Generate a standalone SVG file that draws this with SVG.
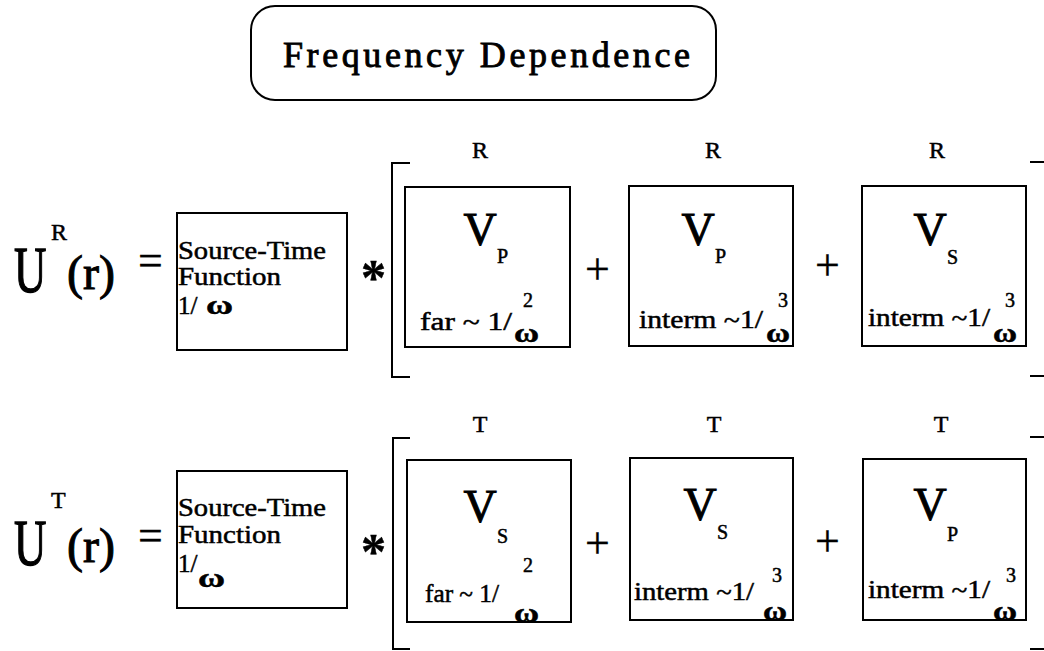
<svg xmlns="http://www.w3.org/2000/svg" width="1044" height="651" viewBox="0 0 1044 651">
<style>
text{font-family:"Liberation Serif","Times New Roman",serif;fill:#000;stroke:#000;stroke-width:0.5}
.box{fill:none;stroke:#000;stroke-width:2}
.ln{fill:none;stroke:#000;stroke-width:2}
.ttl{font-size:36px;stroke-width:0.9}
.U{font-size:66px;stroke-width:1.3}
.big{font-size:48px;stroke-width:1}
.sup{font-size:24px}
.op{font-size:44px;stroke-width:0.3}
.ast{font-size:50px;font-weight:bold}
.src{font-size:25px}
.V{font-size:46px;text-anchor:middle;stroke-width:1}
.sub{font-size:20px}
.lbl{font-size:25px}
.w{font-size:28px;font-weight:bold}
.ex{font-size:20px}
.top{font-size:24px;text-anchor:middle}
</style>
<rect width="1044" height="651" fill="#fff"/>
<g id="title">
<rect x="251" y="6" width="465" height="94" rx="24" ry="24" class="box"/>
<text x="283" y="67" class="ttl" textLength="407" lengthAdjust="spacing">Frequency Dependence</text>
</g>

<g id="lhs-R">
<text transform="translate(14,292) scale(0.68,1)" class="U">U</text>
<text x="51" y="240" class="sup">R</text>
<text x="67" y="289" class="big">(r)</text>
<text x="138" y="275" class="op">=</text>
</g>
<g id="source-R">
<rect x="177" y="213" width="170" height="137" class="box"/>
<text x="178" y="259" class="src" textLength="148" lengthAdjust="spacingAndGlyphs">Source-Time</text>
<text x="178" y="285" class="src" textLength="103" lengthAdjust="spacingAndGlyphs">Function</text>
<text x="178" y="314" class="src">1/</text>
<text x="206" y="314" class="w" textLength="27" lengthAdjust="spacingAndGlyphs">ω</text>
</g>
<g id="box-R1">
<text x="480" y="158" class="top">R</text>
<rect x="405" y="187" width="165" height="160" class="box"/>
<text x="480" y="245" class="V">V</text>
<text x="497" y="263" class="sub">P</text>
<text x="420" y="330" class="lbl" textLength="92" lengthAdjust="spacingAndGlyphs">far ~ 1/</text>
<text x="523" y="307" class="ex">2</text>
<text x="514" y="342" class="w" textLength="25" lengthAdjust="spacingAndGlyphs">ω</text>
</g>
<g id="box-R2">
<text x="713" y="158" class="top">R</text>
<rect x="629" y="186" width="164" height="160" class="box"/>
<text x="698" y="245" class="V">V</text>
<text x="715" y="263" class="sub">P</text>
<text x="639" y="328" class="lbl" textLength="124" lengthAdjust="spacingAndGlyphs">interm ~1/</text>
<text x="778" y="307" class="ex">3</text>
<text x="766" y="342" class="w" textLength="24" lengthAdjust="spacingAndGlyphs">ω</text>
</g>
<g id="box-R3">
<text x="937" y="158" class="top">R</text>
<rect x="862" y="186" width="164" height="160" class="box"/>
<text x="930" y="245" class="V">V</text>
<text x="947" y="264" class="sub">S</text>
<text x="868" y="326" class="lbl" textLength="122" lengthAdjust="spacingAndGlyphs">interm ~1/</text>
<text x="1005" y="307" class="ex">3</text>
<text x="993" y="342" class="w" textLength="24" lengthAdjust="spacingAndGlyphs">ω</text>
</g>

<g id="lhs-T">
<text transform="translate(14,565) scale(0.68,1)" class="U">U</text>
<text x="51" y="508" class="sup">T</text>
<text x="67" y="562" class="big">(r)</text>
<text x="138" y="550" class="op">=</text>
</g>
<g id="source-T">
<rect x="177" y="471" width="170" height="137" class="box"/>
<text x="178" y="516" class="src" textLength="148" lengthAdjust="spacingAndGlyphs">Source-Time</text>
<text x="178" y="543" class="src" textLength="103" lengthAdjust="spacingAndGlyphs">Function</text>
<text x="178" y="572" class="src">1/</text>
<text x="198" y="587" class="w" textLength="27" lengthAdjust="spacingAndGlyphs">ω</text>
</g>
<g id="box-T1">
<text x="480" y="432" class="top">T</text>
<rect x="407" y="460" width="164" height="162" class="box"/>
<text x="480" y="522" class="V">V</text>
<text x="497" y="543" class="sub">S</text>
<text x="425" y="602" class="lbl" textLength="74" lengthAdjust="spacingAndGlyphs">far ~ 1/</text>
<text x="523" y="572" class="ex">2</text>
<text x="514" y="622" class="w" textLength="25" lengthAdjust="spacingAndGlyphs">ω</text>
</g>
<g id="box-T2">
<text x="714" y="432" class="top">T</text>
<rect x="630" y="458" width="163" height="162" class="box"/>
<text x="700" y="520" class="V">V</text>
<text x="717" y="539" class="sub">S</text>
<text x="634" y="600" class="lbl" textLength="120" lengthAdjust="spacingAndGlyphs">interm ~1/</text>
<text x="772" y="582" class="ex">3</text>
<text x="763" y="620" class="w" textLength="24" lengthAdjust="spacingAndGlyphs">ω</text>
</g>
<g id="box-T3">
<text x="941" y="432" class="top">T</text>
<rect x="863" y="459" width="163" height="161" class="box"/>
<text x="930" y="520" class="V">V</text>
<text x="947" y="541" class="sub">P</text>
<text x="868" y="598" class="lbl" textLength="122" lengthAdjust="spacingAndGlyphs">interm ~1/</text>
<text x="1006" y="582" class="ex">3</text>
<text x="993" y="620" class="w" textLength="24" lengthAdjust="spacingAndGlyphs">ω</text>
</g>

<g id="connectors">
<text x="361" y="294" class="ast">*</text>
<text x="361" y="568" class="ast">*</text>
<text x="585" y="284" class="op">+</text>
<text x="815" y="280" class="op">+</text>
<text x="585" y="558" class="op">+</text>
<text x="815" y="556" class="op">+</text>
<path class="ln" d="M410 163H392V377H410"/>
<path class="ln" d="M1030 162H1044M1030 376H1044"/>
<path class="ln" d="M410 438H393V649H410"/>
<path class="ln" d="M1030 437H1044M1030 649H1044"/>
</g>
</svg>
